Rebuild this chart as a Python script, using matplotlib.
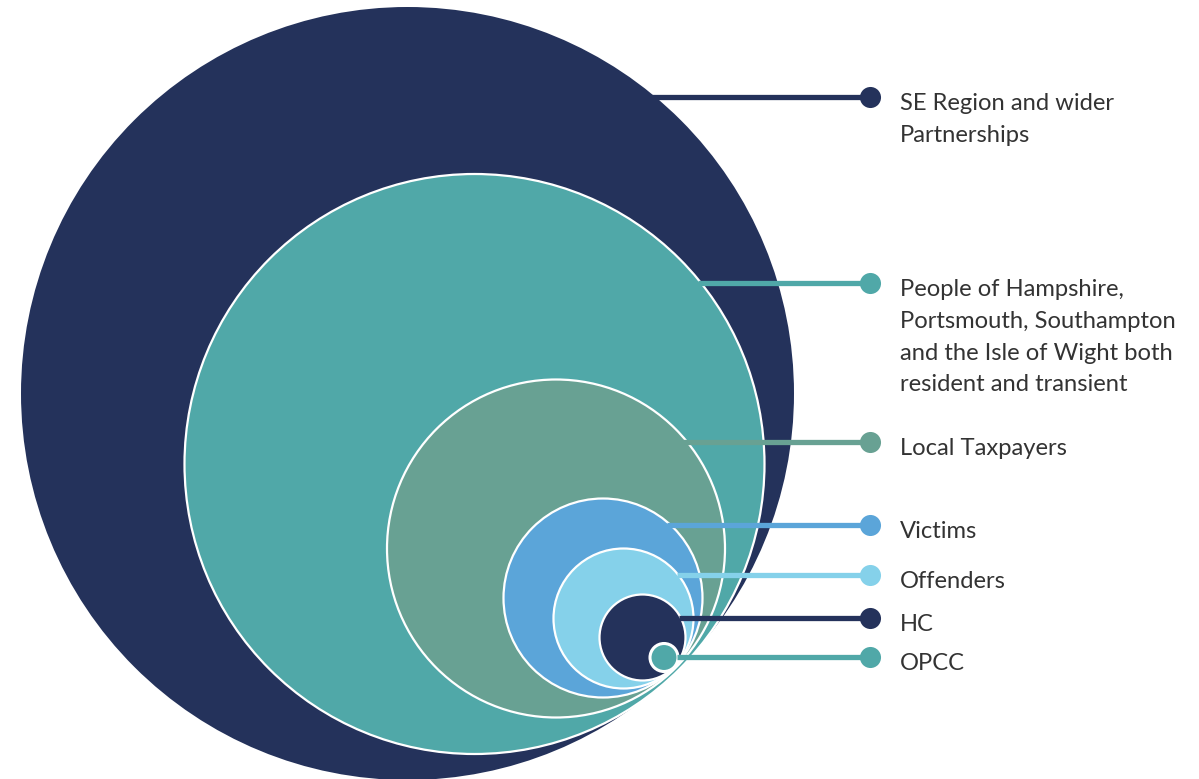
import matplotlib
matplotlib.use("Agg")
import matplotlib.pyplot as plt
from matplotlib.patches import Circle

# groups, outermost first
labels = ["SE Region and wider\nPartnerships",
          "People of Hampshire,\nPortsmouth, Southampton\nand the Isle of Wight both\nresident and transient",
          "Local Taxpayers", "Victims", "Offenders", "HC", "OPCC"]
cx = [407.5, 474.5, 556, 603, 623.5, 642.5, 664]
cy = [393.5, 464, 548.5, 598, 618.5, 637.5, 657.5]
radius = [386.5, 290, 169, 99.5, 70, 43, 14]
colors = ["#24325b", "#50a8a8", "#68a193", "#5ba5d9", "#85d1ea", "#24325b", "#50a8a8"]

# where each leader line leaves its circle
line_y = [97, 283, 442, 525, 575, 618, 657]
line_x0 = [651, 698, 683, 667, 677, 679, 677]

fig = plt.figure(figsize=(11.99, 7.79), dpi=100)
ax = fig.add_axes([0, 0, 1, 1])
ax.set_xlim(0, 1199)
ax.set_ylim(779, 0)
ax.axis("off")

for i in range(len(labels)):
    ec = "none" if i == 0 else "white"
    lw = 2.2 if i == len(labels) - 1 else 1.6
    ax.add_patch(Circle((cx[i], cy[i]), radius[i], facecolor=colors[i],
                        edgecolor=ec, linewidth=lw, zorder=1 + i))

for i in range(len(labels)):
    ax.plot([line_x0[i], 870], [line_y[i], line_y[i]], color=colors[i],
            lw=3.8, solid_capstyle="butt", zorder=20)
    ax.scatter([870], [line_y[i]], s=230, color=colors[i], zorder=21, linewidths=0)
    for j, ln in enumerate(labels[i].split("\n")):
        ax.text(900, line_y[i] + 13 + j * 31.8, ln, fontsize=17.1, color="#333333",
                family="Lato", va="baseline", ha="left")

fig.savefig("out.png", dpi=100)
